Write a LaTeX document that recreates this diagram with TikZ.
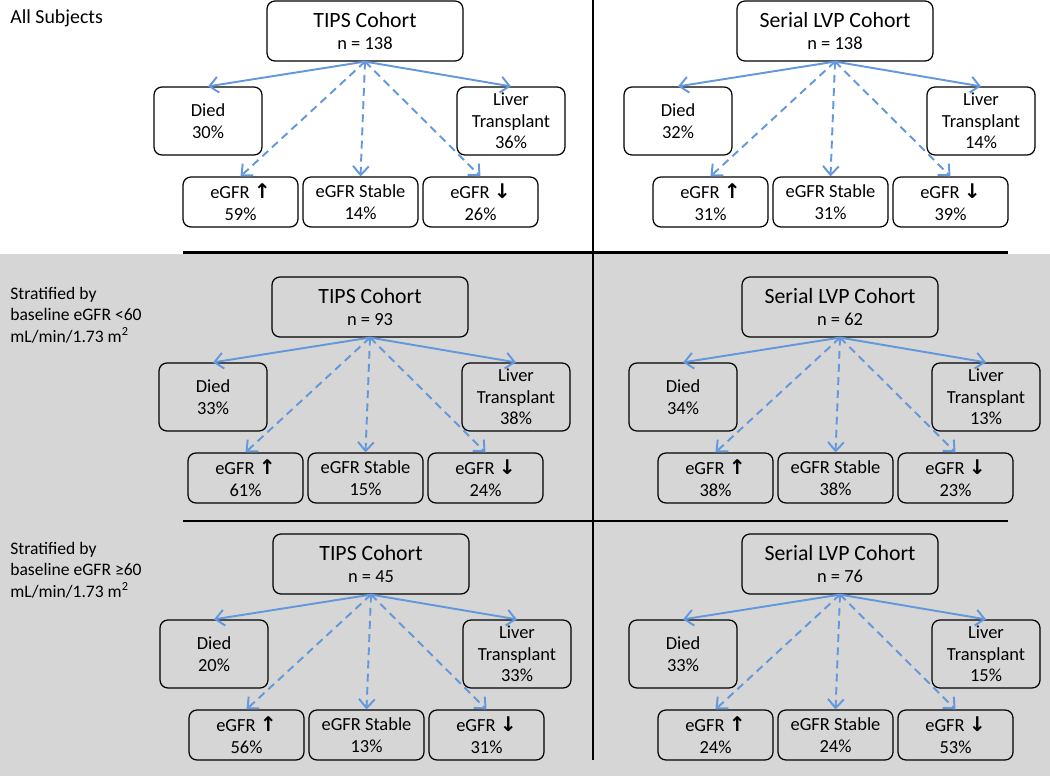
\documentclass[tikz,border=0pt]{standalone}
\usepackage{fontspec}
\setmainfont{Carlito}
\newfontfamily\arrowfont{DejaVu Sans}
\usetikzlibrary{arrows.meta}
\definecolor{flowblue}{RGB}{100,152,220}
\definecolor{panelgrey}{RGB}{214,214,214}
\newcommand{\titlesize}{\fontsize{12.4pt}{14pt}\selectfont}
\newcommand{\boxsize}{\fontsize{10.5pt}{12.3pt}\selectfont}
\newcommand{\arrowsize}{\fontsize{11.5pt}{12.3pt}\selectfont}
\tikzset{
  box/.style={draw,rounded corners=4.5pt,line width=0.7pt,align=center,inner sep=0pt,font=\boxsize},
  cohortbox/.style={box,minimum width=3.92cm,minimum height=1.2cm},
  endbox/.style={box,minimum width=2.16cm,minimum height=1.36cm},
  egfrbox/.style={box,minimum width=2.3cm,minimum height=1cm},
  outcome/.style={-{Straight Barb[length=5pt,width=9pt]},flowblue,line width=1.1pt},
  change/.style={outcome,dash pattern=on 4.5pt off 3pt},
  sidelabel/.style={anchor=west,align=left,inner sep=0pt,font=\fontsize{10pt}{12.3pt}\selectfont}
}
\begin{document}
\begin{tikzpicture}[x=0.02cm,y=-0.02cm]
 \useasboundingbox (0,0) rectangle (1050,776);
 \fill[panelgrey] (0,254) rectangle (1050,776);
 % dividers
 \draw[line width=2pt] (183,252.5)--(1008,252.5);
 \draw[line width=1.1pt] (183,521)--(1008,521);
 \draw[line width=1.6pt] (593,0)--(593,760);
 % row labels
 \node[sidelabel,font=\fontsize{11.3pt}{12.3pt}\selectfont] (allsubj) at (10,18) {All Subjects};
 \node[sidelabel] (lowgfr) at (10,315) {Stratified by\\baseline eGFR <60\\mL/min/1.73 m\textsuperscript{2}};
 \node[sidelabel] (highgfr) at (10,570) {Stratified by\\baseline eGFR ≥60\\mL/min/1.73 m\textsuperscript{2}};
 % one tree per cohort
 \foreach \bx/\by/\id/\cohort/\size/\died/\liver/\egup/\egst/\egdn in {
   267/1/a/TIPS Cohort/138/30/36/59/14/26,
   737/1/b/Serial LVP Cohort/138/32/14/31/31/39,
   272/277/c/TIPS Cohort/93/33/38/61/15/24,
   742/277/d/Serial LVP Cohort/62/34/13/38/38/23,
   273/534/e/TIPS Cohort/45/20/33/56/13/31,
   742/534/f/Serial LVP Cohort/76/33/15/24/24/53}{
  \node[cohortbox] (top\id) at (\bx+98,\by+30) {{\titlesize \cohort}\\n = \size};
  \node[endbox] (died\id) at (\bx-59,\by+120) {Died\\\died\%};
  \node[endbox] (liver\id) at (\bx+244,\by+120) {Liver\\Transplant\\\liver\%};
  \node[egfrbox] (up\id) at (\bx-26.5,\by+201) {eGFR {\arrowfont\bfseries\arrowsize ↑}\\\egup\%};
  \node[egfrbox] (stable\id) at (\bx+93.5,\by+201) {eGFR Stable\\\egst\%};
  \node[egfrbox] (down\id) at (\bx+213.5,\by+201) {eGFR {\arrowfont\bfseries\arrowsize ↓}\\\egdn\%};
  \draw[outcome] (top\id.south)--(died\id.north);
  \draw[outcome] (top\id.south)--(liver\id.north);
  \draw[change] (top\id.south)--(up\id.north);
  \draw[change] (top\id.south)--(stable\id.north);
  \draw[change] (top\id.south)--(down\id.north);
 }
\end{tikzpicture}
\end{document}
